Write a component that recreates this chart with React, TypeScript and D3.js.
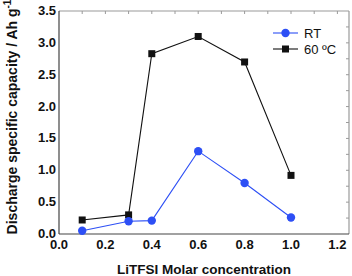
import React from "react";
import * as d3 from "d3";

const concentrations = [0.1, 0.3, 0.4, 0.6, 0.8, 1.0];
const rtValues = [0.05, 0.2, 0.21, 1.3, 0.8, 0.26];
const hotValues = [0.22, 0.3, 2.83, 3.1, 2.7, 0.92];
const xTicks = [0, 0.2, 0.4, 0.6, 0.8, 1.0, 1.2];
const yTicks = [0, 0.5, 1.0, 1.5, 2.0, 2.5, 3.0, 3.5];

const W = 352;
const H = 276;
const margin = { left: 59, right: 3, top: 11, bottom: 42 };
const BLUE = "#2d4ff5";

const App = () => {
  const x = d3.scaleLinear().domain([0, 1.25]).range([margin.left, W - margin.right]);
  const y = d3.scaleLinear().domain([0, 3.5]).range([H - margin.bottom, margin.top]);

  const line = d3
    .line<number>()
    .x((_, i) => x(concentrations[i]))
    .y((d) => y(d));

  const minorX = d3.range(1, 13).map((d) => d / 10);
  const minorY = d3.range(1, 14).map((d) => d / 4);
  const font = "Arial, 'Liberation Sans', sans-serif";

  return (
    <svg
      width={W}
      height={H}
      style={{ position: "absolute", left: 0, top: 0, background: "#fff" }}
      fontFamily={font}
    >
      {/* frame: top/right lighter with inner ticks */}
      <line x1={x(0)} x2={x(1.25)} y1={y(3.5)} y2={y(3.5)} stroke="#9a9a9a" strokeWidth={1.2} />
      <line x1={x(1.25)} x2={x(1.25)} y1={y(3.5)} y2={y(0)} stroke="#9a9a9a" strokeWidth={1.2} />
      {minorX.map((t) => (
        <line key={"tx" + t} x1={x(t)} x2={x(t)} y1={y(3.5)} y2={y(3.5) + 3} stroke="#9a9a9a" />
      ))}
      {minorY.map((t) => (
        <line key={"ry" + t} x1={x(1.25)} x2={x(1.25) - 3} y1={y(t)} y2={y(t)} stroke="#9a9a9a" />
      ))}
      <line x1={x(0)} x2={x(0)} y1={y(3.5)} y2={y(0)} stroke="#444" strokeWidth={1.2} />
      <line x1={x(0)} x2={x(1.25)} y1={y(0)} y2={y(0)} stroke="#444" strokeWidth={1.2} />

      {xTicks.map((t) => (
        <text
          key={"xl" + t}
          x={x(t)}
          y={y(0) + 15}
          textAnchor="middle"
          fontSize={13}
          fontWeight="bold"
          fill="#111"
        >
          {t.toFixed(1)}
        </text>
      ))}
      {yTicks.map((t) => (
        <text
          key={"yl" + t}
          x={x(0) - 3}
          y={y(t) + 4}
          textAnchor="end"
          fontSize={13}
          fontWeight="bold"
          fill="#111"
        >
          {t.toFixed(1)}
        </text>
      ))}

      <text x={204} y={274} textAnchor="middle" fontSize={13.5} fontWeight="bold" fill="#111">
        LiTFSI Molar concentration
      </text>
      <text
        transform={`translate(17, 117) rotate(-90)`}
        textAnchor="middle"
        fontSize={14}
        fontWeight="bold"
        fill="#111"
      >
        Discharge specific capacity / Ah g
        <tspan dy={-6} fontSize={10}>-1</tspan>
      </text>

      {/* series */}
      <path d={line(hotValues) || ""} fill="none" stroke="#111" strokeWidth={1.1} />
      <path d={line(rtValues) || ""} fill="none" stroke={BLUE} strokeWidth={1.1} />
      {hotValues.map((v, i) => (
        <rect key={"h" + i} x={x(concentrations[i]) - 3.5} y={y(v) - 3.5} width={7} height={7} fill="#111" />
      ))}
      {rtValues.map((v, i) => (
        <circle key={"r" + i} cx={x(concentrations[i])} cy={y(v)} r={4.2} fill={BLUE} />
      ))}

      {/* legend */}
      <line x1={273} x2={298} y1={33} y2={33} stroke={BLUE} strokeWidth={1.1} />
      <circle cx={285.5} cy={33} r={4.2} fill={BLUE} />
      <text x={304} y={38} fontSize={13} fill="#111">RT</text>
      <line x1={273} x2={298} y1={49} y2={49} stroke="#111" strokeWidth={1.1} />
      <rect x={282} y={45.5} width={7} height={7} fill="#111" />
      <text x={304} y={54} fontSize={13} fill="#111">60 ºC</text>
    </svg>
  );
};

export default App;
